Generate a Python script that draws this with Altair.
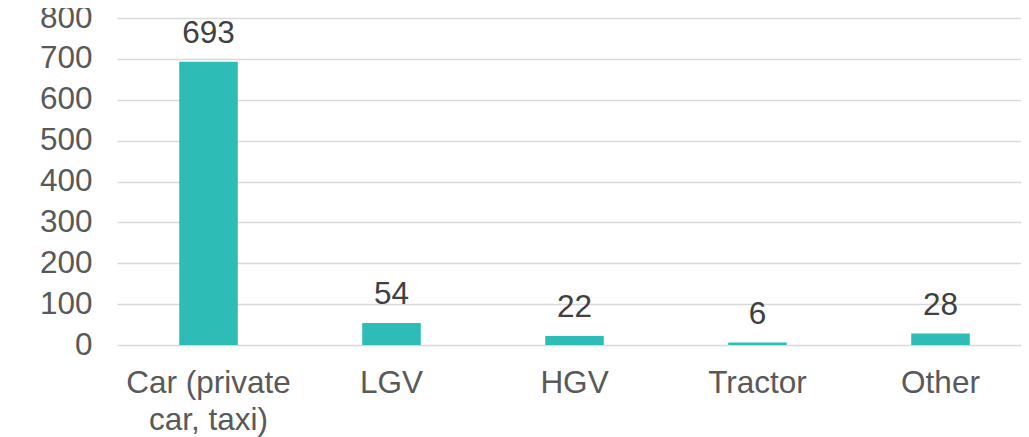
import altair as alt
import pandas as pd

categories = ["Car (private car, taxi)", "LGV", "HGV", "Tractor", "Other"]
values = [693, 54, 22, 6, 28]

df = pd.DataFrame({"cat": categories, "val": values})

FONT = "Liberation Sans"
FS = 31.5

x_enc = alt.X(
    "cat:N",
    sort=categories,
    scale=alt.Scale(range=[0, 915], paddingInner=0.68, paddingOuter=0.34),
    axis=alt.Axis(
        title=None,
        labelAngle=0,
        labelFontSize=FS,
        labelFont=FONT,
        labelColor="#595959",
        labelPadding=22,
        labelLineHeight=37,
        labelBaseline="top",
        ticks=False,
        domain=False,
        grid=False,
        labelExpr="datum.label == 'Car (private car, taxi)' ? ['Car (private', 'car, taxi)'] : datum.label",
    ),
)

bars = alt.Chart(df).mark_bar(color="#2DBDB6").encode(
    x=x_enc,
    y=alt.Y(
        "val:Q",
        scale=alt.Scale(domain=[0, 800]),
        axis=alt.Axis(
            title=None,
            values=[0, 100, 200, 300, 400, 500, 600, 700, 800],
            labelFontSize=FS,
            labelFont=FONT,
            labelColor="#595959",
            labelPadding=25,
            ticks=False,
            domain=False,
            grid=True,
            gridColor="#d9d9d9",
            gridWidth=1.5,
        ),
    ),
)

labels = alt.Chart(df).mark_text(
    fontSize=FS, font=FONT, color="#404040", baseline="middle", dy=-28
).encode(
    x=alt.X("cat:N", sort=categories),
    y=alt.Y("val:Q"),
    text="val:Q",
)

chart = (
    alt.layer(bars, labels)
    .properties(
        width=904,
        height=327,
        background="white",
        autosize=alt.AutoSizeParams(type="none"),
        padding={"left": 109, "top": 10, "right": 0, "bottom": 92},
    )
    .configure_view(strokeWidth=0, stroke="transparent")
)

chart.save("out.html", embed_options={"renderer": "svg", "actions": False})
